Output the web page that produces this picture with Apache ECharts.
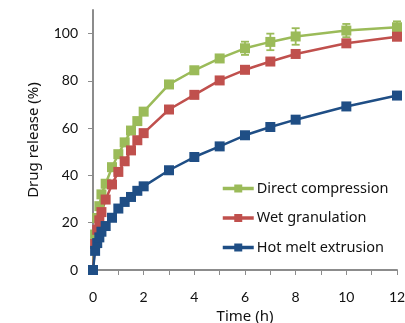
<!DOCTYPE html>
<html>
<head>
<meta charset="utf-8">
<script src="https://cdn.jsdelivr.net/npm/echarts@6/dist/echarts.min.js"></script>
<style>
  html, body { margin: 0; padding: 0; background: #fff; }
  #main { width: 405px; height: 323px; }
</style>
</head>
<body>
<div id="main"></div>
<script>
// sampling times (h)
var times = [0, 0.083, 0.167, 0.25, 0.333, 0.5, 0.75, 1, 1.25, 1.5, 1.75, 2, 3, 4, 5, 6, 7, 8, 10, 12];
var seriesNames = ['Direct compression', 'Wet granulation', 'Hot melt extrusion'];
var directComp = [0, 15, 22, 27, 32, 36.5, 43.5, 49, 54, 59, 63, 67, 78.5, 84.5, 89.5, 93.8, 96.5, 98.8, 101.3, 102.7];
var wetGran = [0, 11, 17, 21, 24.5, 29.8, 36.2, 41.5, 46, 50.6, 54.9, 57.9, 67.9, 74.1, 80.2, 84.7, 88.2, 91.4, 95.9, 98.7];
var hotMelt = [0, 8.1, 11.4, 13.8, 16.2, 18.6, 22.1, 26, 28.8, 30.9, 33.5, 35.4, 42.2, 47.8, 52.3, 57, 60.5, 63.6, 69.2, 73.8];
// error bars (sd) of direct compression
var directErr = [0, 0, 0, 0, 0, 0, 0, 0, 0, 0, 0, 0, 0, 0, 1.5, 2.8, 3.5, 3.5, 2.8, 2.5];
var yTicks = [0, 20, 40, 60, 80, 100];

var colors = ['#9BBB59', '#C0504D', '#1F4E85'];
var font = 'Noto Sans';

function pairs(vals) {
    var out = [];
    for (var i = 0; i < times.length; i++) {
        out.push([times[i], vals[i]]);
    }
    return out;
}

function errData(vals, errs) {
    var out = [];
    for (var i = 0; i < times.length; i++) {
        if (errs[i] > 0) out.push([times[i], vals[i] - errs[i], vals[i] + errs[i]]);
    }
    return out;
}

function lineSeries(name, vals, color) {
    return {
        name: name,
        type: 'line',
        data: pairs(vals),
        symbol: 'rect',
        symbolSize: 10,
        showAllSymbol: true,
        lineStyle: {color: color, width: 2.5},
        itemStyle: {color: color},
        emphasis: {disabled: true},
        animation: false
    };
}

var myChart = echarts.init(document.getElementById('main'));
var option = {
    animation: false,
    color: colors,
    grid: {left: 93, right: 8, top: 10, bottom: 53, outerBoundsMode: 'none'},
    legend: {
        orient: 'vertical',
        left: 216,
        top: 176,
        itemWidth: 31,
        itemHeight: 10,
        itemGap: 14.5,
        data: seriesNames,
        lineStyle: {width: 3.5},
        textStyle: {fontFamily: font, fontSize: 14.5, color: '#111', padding: [0, 0, 0, -2]}
    },
    xAxis: {
        type: 'value',
        min: 0,
        max: 12,
        interval: 1,
        name: 'Time (h)',
        nameLocation: 'middle',
        nameGap: 37,
        nameTextStyle: {fontFamily: font, fontSize: 15, color: '#111'},
        axisLine: {lineStyle: {color: '#8c8c8c', width: 2}},
        axisTick: {show: true, length: 5, lineStyle: {color: '#8c8c8c', width: 1}},
        axisLabel: {
            fontFamily: 'Lato', fontSize: 14, color: '#111', margin: 20,
            formatter: function (v) { return v % 2 === 0 ? String(v) : ''; }
        },
        splitLine: {show: false}
    },
    yAxis: {
        type: 'value',
        min: 0,
        max: 110,
        interval: 20,
        name: 'Drug release (%)',
        nameLocation: 'middle',
        nameGap: 52,
        nameTextStyle: {fontFamily: font, fontSize: 15, color: '#111'},
        axisLine: {show: true, lineStyle: {color: '#8c8c8c', width: 2}},
        axisTick: {show: true, length: 5, customValues: yTicks, lineStyle: {color: '#8c8c8c', width: 1}},
        axisLabel: {fontFamily: 'Lato', fontSize: 14, color: '#111', margin: 15, customValues: yTicks},
        splitLine: {show: false}
    },
    series: [
        {
            type: 'custom',
            name: 'errDirect',
            data: errData(directComp, directErr),
            z: 3,
            renderItem: function (params, api) {
                var lo = api.coord([api.value(0), api.value(1)]);
                var hi = api.coord([api.value(0), api.value(2)]);
                var w = 4;
                var style = {stroke: colors[0], lineWidth: 1.8};
                return {
                    type: 'group',
                    children: [
                        {type: 'line', shape: {x1: lo[0], y1: lo[1], x2: hi[0], y2: hi[1]}, style: style},
                        {type: 'line', shape: {x1: lo[0] - w, y1: lo[1], x2: lo[0] + w, y2: lo[1]}, style: style},
                        {type: 'line', shape: {x1: hi[0] - w, y1: hi[1], x2: hi[0] + w, y2: hi[1]}, style: style}
                    ]
                };
            },
            animation: false
        },
        lineSeries(seriesNames[0], directComp, colors[0]),
        lineSeries(seriesNames[1], wetGran, colors[1]),
        lineSeries(seriesNames[2], hotMelt, colors[2])
    ]
};
myChart.setOption(option);
window.onresize = myChart.resize;
</script>
</body>
</html>
